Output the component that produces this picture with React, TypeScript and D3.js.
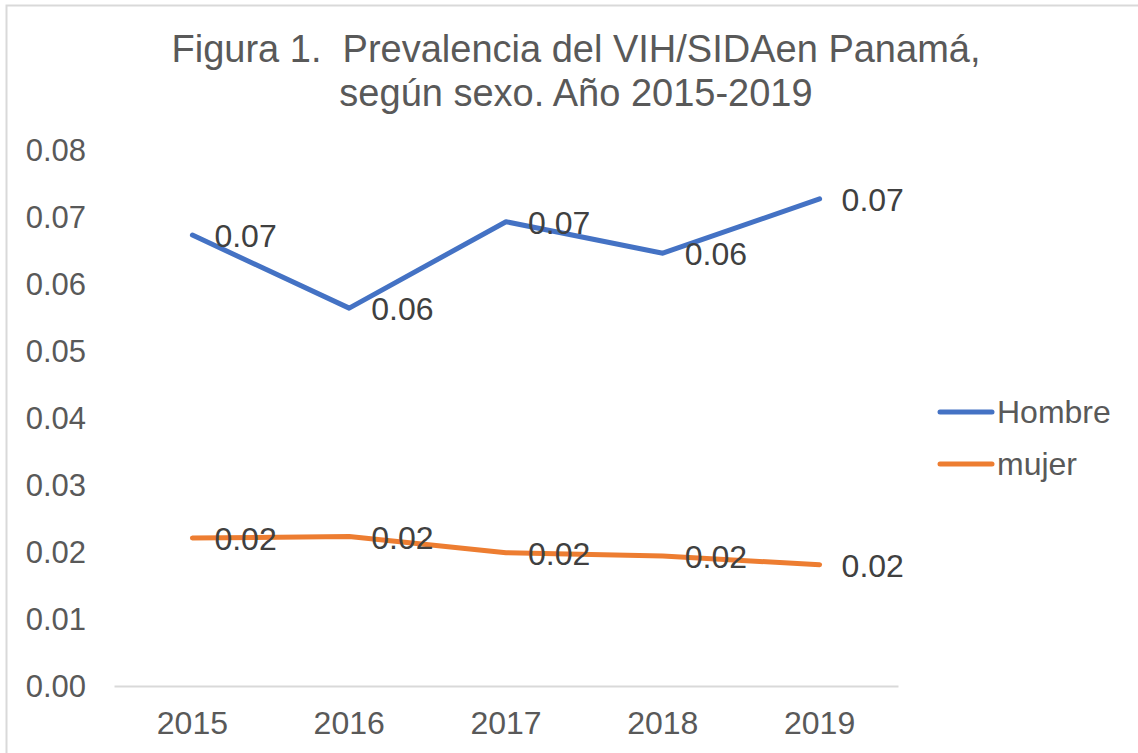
import * as d3 from "d3";
import { useEffect, useRef } from "react";

const years = ["2015", "2016", "2017", "2018", "2019"];
const hombre = [0.0673, 0.0564, 0.0693, 0.0646, 0.0727];
const mujer = [0.0221, 0.0223, 0.0199, 0.0194, 0.0181];
const yTicks = [0, 0.01, 0.02, 0.03, 0.04, 0.05, 0.06, 0.07, 0.08];
const titleLines = ["Figura 1.  Prevalencia del VIH/SIDAen Panamá,", "según sexo. Año 2015-2019"];

const W = 1138;
const H = 753;
const FONT = "'Liberation Sans', Arial, sans-serif";

const App = () => {
    const chartRef = useRef(null);

    useEffect(() => {
        const svg = d3.select(chartRef.current);
        svg.selectAll("*").remove();

        // marco del gráfico
        svg.append("rect")
            .attr("x", 6.5).attr("y", 5.5)
            .attr("width", W + 20).attr("height", H + 20)
            .attr("fill", "white")
            .attr("stroke", "#D9D9D9")
            .attr("stroke-width", 2);

        const x = d3.scaleBand().domain(years).range([114, 898]);
        const y = d3.scaleLinear().domain([0, 0.08]).range([686, 150]);
        const cx = (d) => x(d) + x.bandwidth() / 2;

        // título
        svg.append("text")
            .attr("x", 576)
            .attr("text-anchor", "middle")
            .style("font-family", FONT)
            .style("font-size", "38px")
            .style("white-space", "pre")
            .attr("fill", "#595959")
            .selectAll("tspan")
            .data(titleLines)
            .enter()
            .append("tspan")
            .attr("x", 576)
            .attr("y", (d, i) => 62 + i * 44)
            .text(d => d);

        // eje Y (solo etiquetas)
        const yAxis = d3.axisLeft(y).tickValues(yTicks).tickFormat(d3.format(".2f")).tickSize(0).tickPadding(0);
        const gy = svg.append("g").attr("transform", "translate(86,0)").call(yAxis);
        gy.select(".domain").remove();
        gy.selectAll("text")
            .style("font-family", FONT)
            .style("font-size", "31px")
            .attr("fill", "#595959")
            .attr("dy", "0.35em");

        // eje X
        const xAxis = d3.axisBottom(x).tickSize(0).tickPadding(0);
        const gx = svg.append("g").attr("transform", "translate(0,686)").call(xAxis);
        gx.select(".domain").attr("stroke", "#D9D9D9").attr("stroke-width", 2);
        gx.selectAll("text")
            .style("font-family", FONT)
            .style("font-size", "32px")
            .attr("fill", "#595959")
            .attr("y", 48)
            .attr("dy", 0);

        const line = d3.line().x((d, i) => cx(years[i])).y(d => y(d));

        const series = [
            { name: "Hombre", values: hombre, color: "#4472C4" },
            { name: "mujer", values: mujer, color: "#ED7D31" },
        ];

        series.forEach(s => {
            svg.append("path")
                .datum(s.values)
                .attr("d", line)
                .attr("fill", "none")
                .attr("stroke", s.color)
                .attr("stroke-width", 5)
                .attr("stroke-linecap", "round")
                .attr("stroke-linejoin", "round");
        });

        // etiquetas de datos
        series.forEach(s => {
            svg.selectAll(".lbl-" + s.name)
                .data(s.values)
                .enter()
                .append("text")
                .attr("x", (d, i) => cx(years[i]) + 22)
                .attr("y", d => y(d) + 1)
                .attr("dy", "0.35em")
                .style("font-family", FONT)
                .style("font-size", "32px")
                .attr("fill", "#404040")
                .text(d => d3.format(".2f")(d));
        });

        // leyenda
        const leg = svg.append("g");
        series.forEach((s, i) => {
            const ly = 412 + i * 52;
            leg.append("line")
                .attr("x1", 940).attr("x2", 992)
                .attr("y1", ly).attr("y2", ly)
                .attr("stroke", s.color)
                .attr("stroke-width", 5)
                .attr("stroke-linecap", "round");
            leg.append("text")
                .attr("x", 997)
                .attr("y", ly)
                .attr("dy", "0.35em")
                .style("font-family", FONT)
                .style("font-size", "32px")
                .attr("fill", "#595959")
                .text(s.name);
        });
    }, []);

    return (
        <svg ref={chartRef} width={W} height={H}
            style={{ position: "absolute", left: 0, top: 0, display: "block", background: "white" }}></svg>
    );
};

export default App;
